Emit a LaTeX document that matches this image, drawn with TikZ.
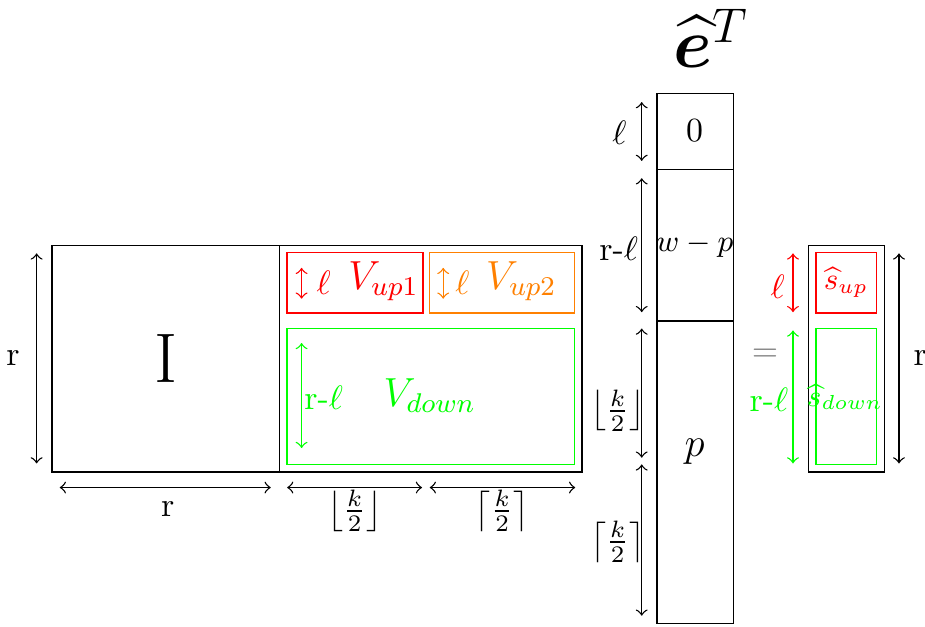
\documentclass[tikz,border=0pt]{standalone}
\usepackage{amsmath}
\usepackage{bm}
\definecolor{vorange}{RGB}{255,128,0}
\definecolor{vgreen}{RGB}{0,255,0}

\begin{document}
\begin{tikzpicture}[
  dimarrow/.style={<->, thin},
  every node/.style={inner sep=1pt},
]

% ── Canvas ───────────────────────────────────────────────────────────
\useasboundingbox (0,0) rectangle (9.6,6.5);

% ── Identity block I (r x r) ─────────────────────────────────────────
\draw (0.54,1.60) rectangle (2.90,3.95);
\node[font=\huge] (ident) at (1.72,2.78) {I};
% side and bottom sizes
\draw[dimarrow] (0.38,3.87) -- (0.38,1.69);
\node (rleft) at (0.135,2.78) {r};
\draw[dimarrow] (0.62,1.44) -- (2.81,1.44);
\node (rbottom) at (1.74,1.22) {r};

% ── V block (r x k) ──────────────────────────────────────────────────
\draw (2.90,1.60) rectangle (6.04,3.95);

% V_up1
\draw[red] (2.98,3.25) rectangle (4.39,3.88);
\draw[dimarrow, red] (3.13,3.72) -- (3.13,3.40);
\node[text=red] (lup1) at (3.36,3.57) {$\ell$};
\node[text=red, font=\large] (vup1) at (3.98,3.58) {$V_{up1}$};

% V_up2
\draw[vorange] (4.46,3.25) rectangle (5.96,3.88);
\draw[dimarrow, vorange] (4.60,3.72) -- (4.60,3.40);
\node[text=vorange] (lup2) at (4.80,3.57) {$\ell$};
\node[text=vorange, font=\large] (vup2) at (5.41,3.58) {$V_{up2}$};

% V_down
\draw[vgreen] (2.98,1.68) rectangle (5.96,3.09);
\draw[dimarrow, vgreen] (3.13,2.94) -- (3.13,1.85);
\node[text=vgreen] (rldown) at (3.36,2.37) {r-$\ell$};
\node[text=vgreen, font=\large] (vdown) at (4.46,2.39) {$V_{down}$};

% widths below
\draw[dimarrow] (2.98,1.44) -- (4.38,1.44);
\node (kfloor) at (3.68,1.20) {$\left\lfloor\frac{k}{2}\right\rfloor$};
\draw[dimarrow] (4.46,1.44) -- (5.97,1.44);
\node (kceil) at (5.21,1.20) {$\left\lceil\frac{k}{2}\right\rceil$};

% ── Column e^T ───────────────────────────────────────────────────────
\node[font=\huge] (etitle) at (7.38,6.10) {$\widehat{\bm{e}}^T$};
\draw (6.82,0.03) rectangle (7.61,5.53);
\draw (6.82,4.74) -- (7.61,4.74);
\draw (6.82,3.17) -- (7.61,3.17);
\node (zero) at (7.21,5.14) {0};
\node[font=\small] (wmp) at (7.21,3.95) {$w-p$};
\node[font=\large] (pp) at (7.21,1.81) {$p$};

% sizes on the left of the column
\draw[dimarrow] (6.66,5.44) -- (6.66,4.83);
\node (lcol) at (6.43,5.12) {$\ell$};
\draw[dimarrow] (6.66,4.65) -- (6.66,3.26);
\node (rlcol) at (6.42,3.92) {r-$\ell$};
\draw[dimarrow] (6.66,3.09) -- (6.66,1.75);
\node (pfloor) at (6.41,2.24) {$\left\lfloor\frac{k}{2}\right\rfloor$};
\draw[dimarrow] (6.66,1.68) -- (6.66,0.11);
\node (pceil) at (6.41,0.88) {$\left\lceil\frac{k}{2}\right\rceil$};

% ── Equals ───────────────────────────────────────────────────────────
\node[text=gray] (eq) at (7.94,2.81) {$=$};

% ── Result s ─────────────────────────────────────────────────────────
\draw (8.39,1.60) rectangle (9.18,3.95);
\draw[red] (8.47,3.25) rectangle (9.10,3.88);
\node[text=red, font=\small] (sup) at (8.78,3.57) {$\widehat{s}_{up}$};
\draw[vgreen] (8.47,1.68) rectangle (9.10,3.09);
\node[text=vgreen, font=\small] (sdown) at (8.77,2.38) {$\widehat{s}_{down}$};

% sizes around s
\draw[dimarrow, red] (8.23,3.87) -- (8.23,3.26);
\node[text=red] (ls) at (8.07,3.52) {$\ell$};
\draw[dimarrow, vgreen] (8.23,3.07) -- (8.23,1.69);
\node[text=vgreen] (rls) at (7.98,2.35) {r-$\ell$};
\draw[dimarrow] (9.33,3.87) -- (9.33,1.69);
\node (rright) at (9.55,2.78) {r};

\end{tikzpicture}
\end{document}
